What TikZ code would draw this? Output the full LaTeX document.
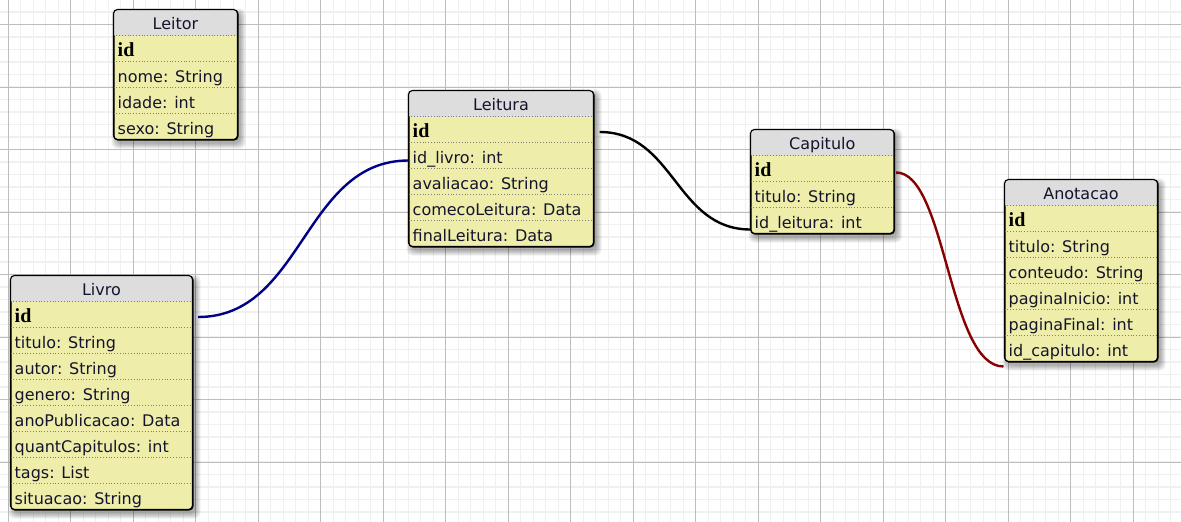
\documentclass[tikz,border=0pt]{standalone}
\usepackage{fontspec}
\setmainfont{DejaVu Sans}
\newfontfamily\idfont{Liberation Serif}
\usetikzlibrary{calc}
\definecolor{headgray}{HTML}{DDDDDD}
\definecolor{rowyel}{HTML}{EEEEAA}
\definecolor{txt}{HTML}{14142E}
\definecolor{minorc}{HTML}{F0F0F0}
\definecolor{majorc}{HTML}{BDBDBD}
\definecolor{linkblue}{HTML}{000088}
\definecolor{linkred}{HTML}{880000}
\tikzset{
  minorgrid/.style={minorc, line width=1.2pt},
  majorgrid/.style={majorc, line width=1pt},
  tblframe/.style={draw=black, line width=1.1pt, rounded corners=4pt, inner sep=0pt, fill=rowyel},
  tblborder/.style={draw=black, line width=1.1pt, rounded corners=4pt},
  headtext/.style={font=\fontsize{16}{19}\selectfont, text=txt, inner sep=0pt, anchor=base},
  rowtext/.style={font=\fontsize{16}{19}\selectfont, text=txt, inner sep=0pt, anchor=base west},
  rowsep/.style={gray, dotted, line width=0.8pt},
  link/.style={line width=2.4pt},
  shadowlayer/.style={fill=black, opacity=0.06, rounded corners=6pt},
}
\newcommand{\pk}[1]{{\idfont\bfseries\fontsize{20}{22}\selectfont\color{black}#1}}
% name, x, y, width, nrows, title, rows
\newcommand{\dbtable}[7]{%
  \pgfmathsetmacro{\tblh}{26*(#5+1)}%
  \foreach \e in {5,4,3,2,1,0}{%
    \path[shadowlayer] ({#2+3-\e},{#3+4-\e}) rectangle ({#2+#4+3+\e},{#3+\tblh+4+\e});
  }%
  \node[tblframe, minimum width=#4pt, minimum height=\tblh pt, anchor=north west] (#1) at (#2,#3) {};
  \begin{scope}
    \clip[rounded corners=4pt] (#2,#3) rectangle ++(#4,\tblh);
    \fill[headgray] (#2,#3) rectangle ++(#4,26);
  \end{scope}
  \foreach \i in {1,...,#5}{%
    \draw[rowsep] (#2,{#3+26*\i}) -- ++(#4,0);
  }%
  \draw[tblborder] (#2,#3) rectangle ++(#4,\tblh);
  \node[headtext] (#1-h) at ({#2+#4/2},{#3+19.5}) {#6};
  \foreach \r [count=\i] in {#7}{%
    \node[rowtext] (#1-\i) at ({#2+4},{#3+26*\i+20.5}) {\r};
  }%
}
\begin{document}
\begin{tikzpicture}[x=1pt,y=-1pt]
\useasboundingbox (0,0) rectangle (1181,522);
\fill[white] (0,0) rectangle (1181,522);
% grid
\begin{scope}
\clip (0,0) rectangle (1181,522);
\foreach \i in {0,...,95} \draw[minorgrid] ({-4.3+12.5*\i},0) -- ++(0,522);
\foreach \j in {0,...,42} \draw[minorgrid] (0,{-0.5+12.5*\j}) -- ++(1181,0);
\foreach \k in {0,...,18} \draw[majorgrid] ({8.2+62.5*\k},0) -- ++(0,522);
\foreach \k in {0,...,8} \draw[majorgrid] (0,{24.5+62.5*\k}) -- ++(1181,0);
\end{scope}
% tables
\dbtable{leitor}{113.5}{9.5}{124}{4}{Leitor}{\pk{id},nome: String,idade: int,sexo: String}
\dbtable{leitura}{408.5}{90.5}{185}{5}{Leitura}{\pk{id},id\_livro: int,avaliacao: String,comecoLeitura: Data,finalLeitura: Data}
\dbtable{livro}{10.5}{275.5}{182}{8}{Livro}{\pk{id},titulo: String,autor: String,genero: String,anoPublicacao: Data,quantCapitulos: int,tags: List,situacao: String}
\dbtable{capitulo}{750.5}{129.5}{143.5}{3}{Capitulo}{\pk{id},titulo: String,id\_leitura: int}
\dbtable{anotacao}{1004.5}{179.5}{153}{6}{Anotacao}{\pk{id},titulo: String,conteudo: String,paginaInicio: int,paginaFinal: int,id\_capitulo: int}
% connector end points
\coordinate (b1) at ($(livro.east |- livro-1.base)+(4.5,-5)$);
\coordinate (b2) at ($(leitura.west |- leitura-2.base)+(0,-2.5)$);
\coordinate (k1) at ($(leitura.east |- leitura-1.base)+(5,-5)$);
\coordinate (k2) at ($(capitulo.west |- capitulo-3.base)+(0,1.5)$);
\coordinate (r1) at ($(capitulo.east |- capitulo-1.base)+(1,-3.5)$);
\coordinate (r2) at ($(anotacao.west |- anotacao-6.base)+(-1,10.5)$);
\draw[link, linkblue] (b1) .. controls +(105,0) and +(-105,0) .. (b2);
\draw[link, black] (k1) .. controls +(75,0) and +(-75,0) .. (k2);
\draw[link, linkred] (r1) .. controls +(50,0) and +(-55,0) .. (r2);
\end{tikzpicture}
\end{document}
